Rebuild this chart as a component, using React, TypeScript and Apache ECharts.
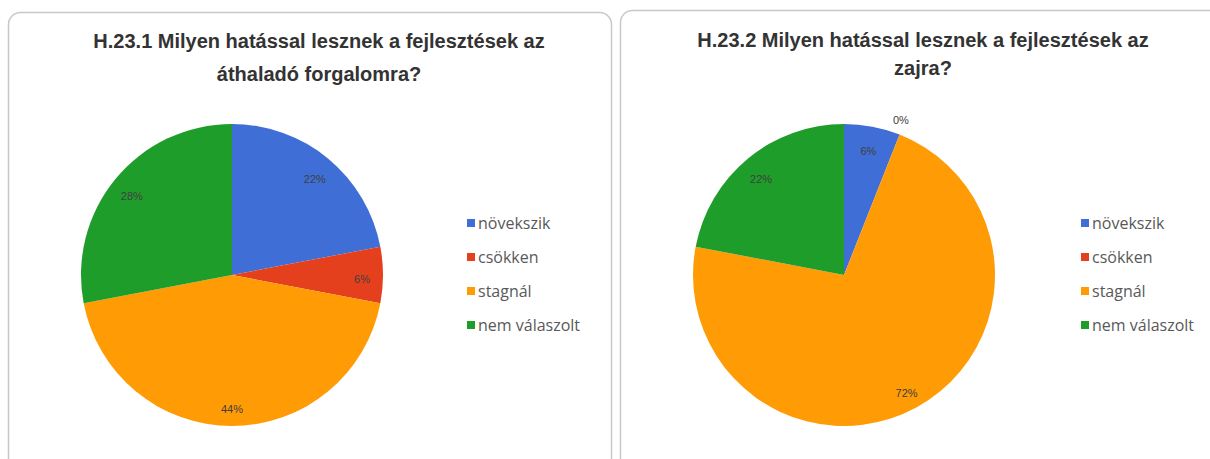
import React, { useEffect, useRef } from "react";
import * as echarts from "echarts";

const categories = ["növekszik", "csökken", "stagnál", "nem válaszolt"];
const valuesTraffic = [22, 6, 44, 28];
const valuesNoise = [6, 0, 72, 22];
const titleTraffic = "H.23.1 Milyen hatással lesznek a fejlesztések az\náthaladó forgalomra?";
const titleNoise = "H.23.2 Milyen hatással lesznek a fejlesztések az\nzajra?";
const colors = ["#3F6ED6", "#E4401E", "#FF9B05", "#1F9D2B"];

const FONT = "'Liberation Sans', Arial, sans-serif";
const LEGEND_FONT = "'Open Sans', 'Liberation Sans', sans-serif";

function buildData(values: number[]) {
  return categories.map((name, i) => ({ name, value: values[i] }));
}

function labelData(values: number[], zeroOnly: boolean) {
  return categories.map((name, i) => {
    const isZero = values[i] === 0;
    return { name, value: values[i], label: { show: zeroOnly ? isZero : !isZero } };
  });
}

export default function App() {
  const ref = useRef<HTMLDivElement>(null);
  useEffect(() => {
    if (!ref.current) return;
    const chart = echarts.init(ref.current, null, { renderer: "svg" });
    const R = 151;
    const CY = 275;
    const pieBase = (cx: number, values: number[]) => ({
      type: "pie",
      center: [cx, CY],
      radius: [0, R],
      startAngle: 90,
      clockwise: true,
      data: buildData(values),
      label: { show: false },
      labelLine: { show: false },
      itemStyle: { borderWidth: 0 },
      emphasis: { disabled: true },
      silent: true,
    });
    const pieLabels = (cx: number, values: number[], radius: number[], zeroOnly: boolean) => ({
      type: "pie",
      center: [cx, CY + 4],
      radius,
      startAngle: 90,
      clockwise: true,
      stillShowZeroSum: true,
      data: labelData(values, zeroOnly),
      itemStyle: { color: "transparent", borderWidth: 0 },
      label: {
        position: "inside",
        formatter: (p: any) => `${p.value}%`,
        fontSize: 11,
        fontFamily: FONT,
        color: "#404040",
      },
      labelLine: { show: false },
      emphasis: { disabled: true },
      silent: true,
      legendHoverLink: false,
    });
    const legendBase = (left: number) => ({
      orient: "vertical",
      left,
      top: 210,
      icon: "rect",
      itemWidth: 8,
      itemHeight: 8,
      itemGap: 18,
      selectedMode: false,
      data: categories,
      textStyle: { fontSize: 16, fontFamily: LEGEND_FONT, color: "#595959", padding: [0, 0, 0, -2] },
    });
    const titleStyle = { fontSize: 20, fontWeight: "bold", fontFamily: FONT, color: "#333333" };
    chart.setOption({
      animation: false,
      color: colors,
      title: [
        {
          text: titleTraffic,
          left: 314,
          top: 19,
          textAlign: "center",
          textStyle: { ...titleStyle, lineHeight: 33 },
        },
        {
          text: titleNoise,
          left: 918,
          top: 21,
          textAlign: "center",
          textStyle: { ...titleStyle, lineHeight: 28 },
        },
      ],
      legend: [legendBase(462), legendBase(1076)],
      graphic: [
        {
          type: "rect",
          shape: { x: 8.5, y: 12.5, width: 603, height: 480, r: 12 },
          style: { fill: "none", stroke: "#C8C8C8", lineWidth: 1.5 },
          z: 0,
        },
        {
          type: "rect",
          shape: { x: 620.5, y: 10.5, width: 620, height: 480, r: 12 },
          style: { fill: "none", stroke: "#C8C8C8", lineWidth: 1.5 },
          z: 0,
        },
      ],
      series: [
        pieBase(232, valuesTraffic),
        pieLabels(232, valuesTraffic, [Math.round(R * 0.68), R], false),
        pieBase(844, valuesNoise),
        pieLabels(844, valuesNoise, [Math.round(R * 0.68), R], false),
        pieLabels(838, valuesNoise, [R + 4, R + 30], true),
      ],
    });
    return () => chart.dispose();
  }, []);
  return (
    <div
      ref={ref}
      style={{ position: "fixed", left: 0, top: 0, width: 1210, height: 459, background: "#fff" }}
    />
  );
}
